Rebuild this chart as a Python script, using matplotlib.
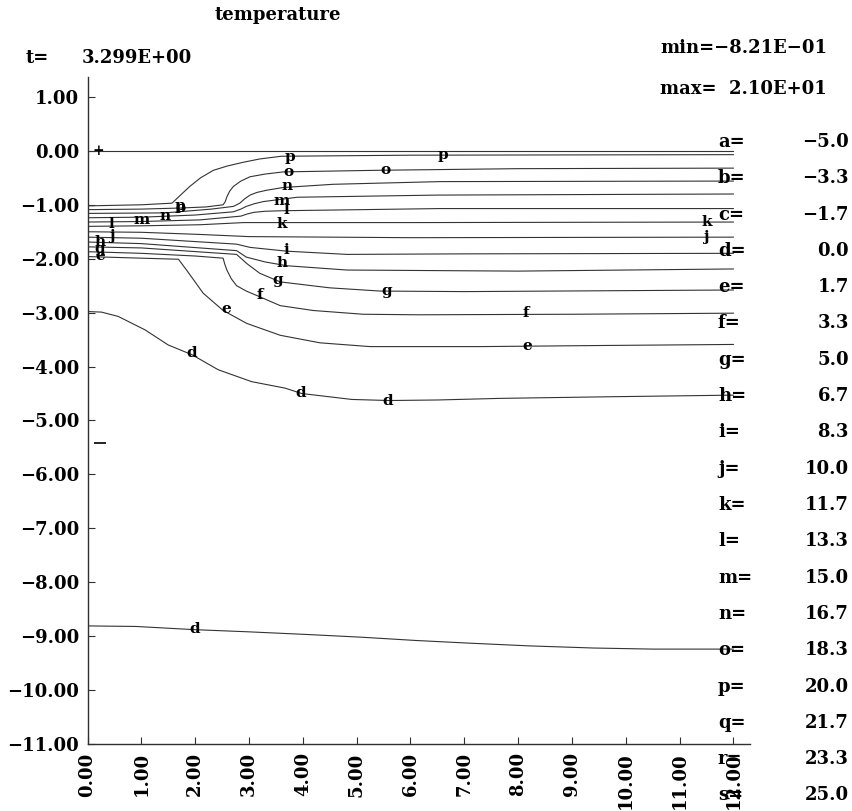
import matplotlib
matplotlib.use('Agg')
import matplotlib.pyplot as plt

plt.rcParams['font.family'] = ['DejaVu Serif', 'DejaVu Sans']
plt.rcParams['font.weight'] = 'bold'

# ---------------- data ----------------
level_letters = list('abcdefghijklmnopqrs')
level_values = [-5.0, -3.3, -1.7, 0.0, 1.7, 3.3, 5.0, 6.7, 8.3, 10.0,
                11.7, 13.3, 15.0, 16.7, 18.3, 20.0, 21.7, 23.3, 25.0]

x_ticks = [0, 1, 2, 3, 4, 5, 6, 7, 8, 9, 10, 11, 12]
y_ticks = [1, 0, -1, -2, -3, -4, -5, -6, -7, -8, -9, -10, -11]

title_text = 'temperature'
time_value = '3.299E+00'
min_text = 'min=−8.21E−01'
max_text = 'max=  2.10E+01'

# contour lines (x, y)
top_x = [0.0, 12.0]
top_y = [0.0, 0.0]

p_x = [0.0, 1.0, 1.57, 1.75, 1.9, 2.1, 2.34, 2.6, 2.9, 3.2, 3.6, 6.0, 12.0]
p_y = [-1.02, -1.00, -0.97, -0.80, -0.66, -0.50, -0.36, -0.28, -0.21, -0.15, -0.10, -0.08, -0.07]

o_x = [0.0, 1.0, 1.72, 2.2, 2.52, 2.56, 2.59, 2.64, 2.71, 2.85, 3.02, 3.3, 3.64, 5.4, 8.0, 12.0]
o_y = [-1.09, -1.08, -1.06, -1.04, -1.00, -0.94, -0.85, -0.75, -0.66, -0.56, -0.48, -0.43, -0.39, -0.36, -0.33, -0.32]

n_x = [0.0, 1.44, 2.3, 2.71, 2.83, 2.92, 3.02, 3.15, 3.33, 3.63, 4.56, 6.55, 12.0]
n_y = [-1.16, -1.15, -1.08, -1.03, -0.97, -0.89, -0.82, -0.77, -0.73, -0.68, -0.62, -0.57, -0.56]

m_x = [0.0, 1.0, 2.0, 2.71, 2.85, 2.95, 3.1, 3.27, 3.9, 6.5, 12.0]
m_y = [-1.24, -1.23, -1.19, -1.13, -1.08, -1.03, -0.98, -0.94, -0.86, -0.82, -0.80]

l_x = [0.0, 1.0, 2.09, 2.85, 2.97, 3.09, 3.3, 3.63, 6.55, 12.0]
l_y = [-1.32, -1.31, -1.28, -1.21, -1.17, -1.14, -1.12, -1.11, -1.07, -1.07]

k_x = [0.0, 1.0, 2.09, 2.9, 3.6, 6.0, 12.0]
k_y = [-1.40, -1.39, -1.37, -1.33, -1.33, -1.33, -1.32]

j_x = [0.0, 1.0, 2.09, 3.0, 6.0, 12.0]
j_y = [-1.50, -1.51, -1.55, -1.59, -1.61, -1.60]

i_x = [0.0, 1.0, 2.77, 3.02, 3.70, 4.82, 7.0, 12.0]
i_y = [-1.60, -1.62, -1.73, -1.79, -1.86, -1.92, -1.91, -1.90]

h_x = [0.0, 1.0, 2.77, 2.86, 2.95, 3.3, 3.70, 4.82, 8.0, 12.0]
h_y = [-1.69, -1.72, -1.85, -1.91, -1.97, -2.06, -2.13, -2.21, -2.23, -2.19]

g_x = [0.0, 1.0, 2.77, 2.86, 2.96, 3.2, 3.58, 4.5, 5.44, 7.0, 12.0]
g_y = [-1.78, -1.80, -1.92, -2.00, -2.09, -2.27, -2.43, -2.54, -2.60, -2.61, -2.58]

f_x = [0.0, 1.0, 2.0, 2.52, 2.55, 2.59, 2.67, 2.77, 2.95, 3.14, 3.58, 4.19, 5.12, 6.14, 9.0, 12.0]
f_y = [-1.87, -1.90, -1.95, -1.99, -2.10, -2.21, -2.37, -2.50, -2.60, -2.68, -2.87, -2.96, -3.03, -3.04, -3.03, -3.01]

e_x = [0.0, 1.0, 1.69, 1.84, 2.15, 2.52, 2.96, 3.58, 4.32, 5.25, 7.3, 9.5, 12.0]
e_y = [-1.96, -1.99, -2.01, -2.21, -2.64, -2.96, -3.20, -3.42, -3.56, -3.63, -3.63, -3.61, -3.59]

d_x = [0.0, 0.26, 0.57, 1.07, 1.50, 1.94, 2.43, 3.05, 3.67, 3.98, 4.91, 5.6, 6.5, 7.67, 9.71, 12.0]
d_y = [-2.98, -2.99, -3.07, -3.32, -3.60, -3.78, -4.06, -4.28, -4.40, -4.50, -4.61, -4.63, -4.62, -4.59, -4.56, -4.53]

d2_x = [0.0, 0.9, 2.0, 3.0, 4.1, 5.1, 6.1, 7.1, 8.2, 9.4, 10.5, 12.0]
d2_y = [-8.81, -8.82, -8.88, -8.92, -8.97, -9.02, -9.08, -9.13, -9.18, -9.22, -9.24, -9.24]

# contour labels on the lines
label_text = ['p', 'p', 'o', 'o', 'n', 'm', 'l', 'k', 'k', 'j', 'j', 'i',
              'h', 'h', 'g', 'g', 'g', 'f', 'f', 'e', 'e', 'e',
              'd', 'd', 'd', 'd', 'l', 'm', 'n', 'o', 'p']
label_x = [3.76, 6.61, 3.74, 5.53, 3.71, 3.61, 3.69, 3.61, 11.50, 11.48, 0.45, 3.69,
           3.61, 0.23, 3.54, 5.55, 0.23, 3.21, 8.15, 2.57, 8.17, 0.23,
           1.94, 3.97, 5.57, 1.99, 0.44, 1.01, 1.44, 1.72, 1.72]
label_y = [-0.11, -0.07, -0.39, -0.35, -0.65, -0.93, -1.10, -1.36, -1.32, -1.60, -1.58, -1.84,
           -2.08, -1.69, -2.39, -2.60, -1.82, -2.67, -3.00, -2.93, -3.62, -1.95,
           -3.75, -4.49, -4.64, -8.87, -1.36, -1.28, -1.21, -1.06, -1.03]

plus_mark = (0.2, 0.0)
minus_mark = (0.23, -5.42)

# ---------------- figure ----------------
W, H = 852, 811
fig = plt.figure(figsize=(W / 100, H / 100), dpi=100)
ax = fig.add_axes([87.5 / W, 1 - 744 / H, 662 / W, 667 / H])

line_kw = dict(color='#333333', lw=0.8)
for xs, ys in [(top_x, top_y), (p_x, p_y), (o_x, o_y), (n_x, n_y), (m_x, m_y),
               (l_x, l_y), (k_x, k_y), (j_x, j_y), (i_x, i_y), (h_x, h_y),
               (g_x, g_y), (f_x, f_y), (e_x, e_y), (d_x, d_y), (d2_x, d2_y)]:
    ax.plot(xs, ys, **line_kw)

for t, x, y in zip(label_text, label_x, label_y):
    ax.text(x, y, t, ha='center', va='center', fontsize=11, fontweight='bold', color='black')

ax.text(plus_mark[0], plus_mark[1], '+', ha='center', va='center', fontsize=10, color='black')
ax.plot([minus_mark[0]], [minus_mark[1]], marker='_', markersize=8, color='black', mew=1.2)

ax.set_xlim(0, 12.3)
ax.set_ylim(-11, 1.37)
for s in ['top', 'right']:
    ax.spines[s].set_visible(False)
for s in ['left', 'bottom']:
    ax.spines[s].set_color('#303030')
    ax.spines[s].set_linewidth(1.0)

def fmt(v):
    return f'{v:.2f}'.replace('-', '−')

ax.set_xticks(x_ticks)
ax.set_xticklabels([fmt(v) for v in x_ticks], rotation=90, fontsize=13, fontweight='bold')
ax.set_yticks(y_ticks)
ax.set_yticklabels([fmt(v) for v in y_ticks], fontsize=13, fontweight='bold')
ax.tick_params(direction='in', length=5, width=0.8, color='#303030', pad=6)

# header texts
def ft(xp, yp, s, **kw):
    fig.text(xp / W, 1 - yp / H, s, va='center', fontweight='bold', **kw)

ft(278, 15, title_text, ha='center', fontsize=13)
ft(26, 58, 't=', ha='left', fontsize=13)
ft(82, 58, time_value, ha='left', fontsize=13)
ft(660, 48, min_text, ha='left', fontsize=13)
ft(660, 89, max_text, ha='left', fontsize=13)

# level legend
for idx, (ltr, val) in enumerate(zip(level_letters, level_values)):
    yp = 142 + idx * 36.3
    ft(718, yp, f'{ltr}=', ha='left', fontsize=13)
    ft(849, yp, f'{val:.1f}'.replace('-', '−'), ha='right', fontsize=13)

fig.savefig('out.png', dpi=100)
